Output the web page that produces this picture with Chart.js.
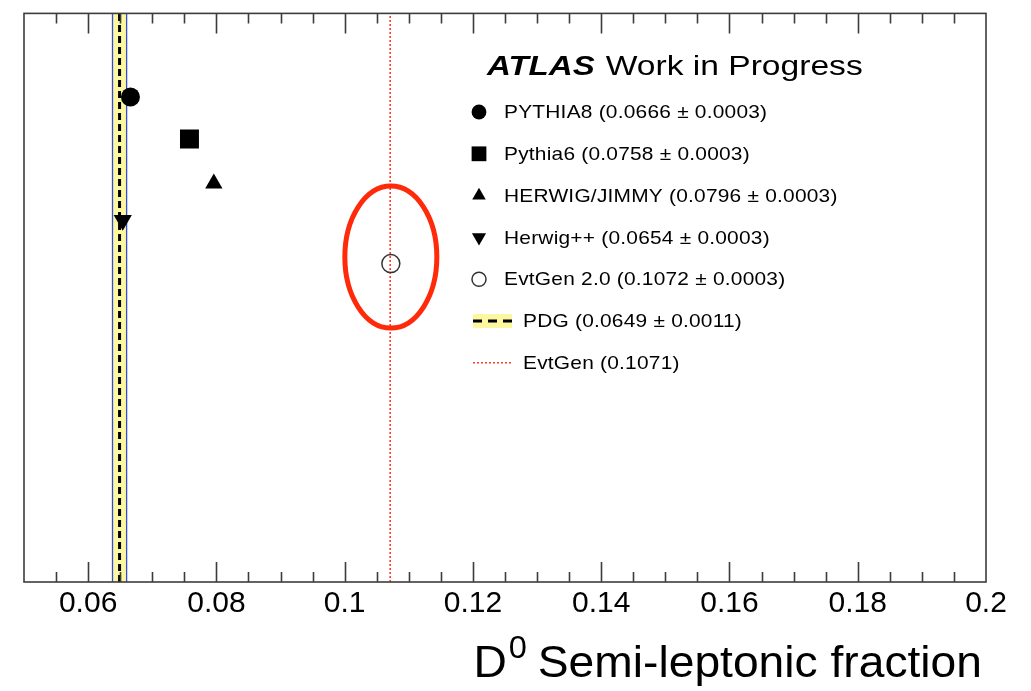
<!DOCTYPE html>
<html>
<head>
<meta charset="utf-8">
<script src="https://cdn.jsdelivr.net/npm/chart.js@4.4.1/dist/chart.umd.min.js"></script>
<style>
  html, body { margin: 0; padding: 0; background: #fff; }
  #wrap { width: 1031px; height: 691px; }
</style>
</head>
<body>
<div id="wrap"><canvas id="fracChart" width="1031" height="691"></canvas></div>
<script>
// D0 semi-leptonic fraction per generator
const generators = ["PYTHIA8", "Pythia6", "HERWIG/JIMMY", "Herwig++", "EvtGen 2.0"];
const fractions  = [0.0666, 0.0758, 0.0796, 0.0654, 0.1072];
const fracErrors = [0.0003, 0.0003, 0.0003, 0.0003, 0.0003];
const rowPos     = [0.853, 0.779, 0.701, 0.636, 0.560];   // vertical slot of each marker (y axis hidden)

// reference lines
const pdgValue = 0.0649;
const pdgError = 0.0011;
const evtGenValue = 0.1071;

const xTicks      = [0.06, 0.08, 0.1, 0.12, 0.14, 0.16, 0.18, 0.2];
const xTickLabels = ["0.06", "0.08", "0.1", "0.12", "0.14", "0.16", "0.18", "0.2"];

const FONT = "'Liberation Sans', Arial, Helvetica, sans-serif";

// marker look per generator
const markers = [
  { shape: "circle",   rot: 0,   r: 9.5,  fill: true },
  { shape: "rect",     rot: 0,   r: 13.4, fill: true },
  { shape: "triangle", rot: 0,   r: 10,   fill: true },
  { shape: "triangle", rot: 180, r: 10.5, fill: true },
  { shape: "circle",   rot: 0,   r: 9,    fill: false }
];

const fmt = v => v.toFixed(4);

// text stretched horizontally, returns drawn width
function wideText(ctx, text, x, y, sx) {
  ctx.save();
  ctx.translate(x, y);
  ctx.scale(sx, 1);
  ctx.fillText(text, 0, 0);
  const w = ctx.measureText(text).width * sx;
  ctx.restore();
  return w;
}

const markerSets = generators.map((g, i) => ({
  label: g,
  data: [{ x: fractions[i], y: rowPos[i] }],
  pointStyle: markers[i].shape,
  pointRotation: markers[i].rot,
  pointRadius: markers[i].r,
  pointBackgroundColor: markers[i].fill ? "#000" : "rgba(0,0,0,0)",
  pointBorderColor: markers[i].fill ? "#000" : "#333",
  pointBorderWidth: markers[i].fill ? 0 : 1.5,
  showLine: false,
  order: 1
}));

const lineSets = [
  {
    label: "PDG",
    data: [{ x: pdgValue, y: 0 }, { x: pdgValue, y: 1 }],
    showLine: true, pointRadius: 0,
    borderColor: "#000", borderWidth: 3, borderDash: [7, 4],
    order: 2
  },
  {
    label: "EvtGen",
    data: [{ x: evtGenValue, y: 0 }, { x: evtGenValue, y: 1 }],
    showLine: true, pointRadius: 0,
    borderColor: "#ff3b2a", borderWidth: 1.6, borderDash: [2, 2],
    order: 2
  }
];

// yellow PDG uncertainty band with thin blue edges
const pdgBand = {
  id: "pdgBand",
  beforeDatasetsDraw(chart) {
    const { ctx, chartArea: a, scales: { x } } = chart;
    const x0 = x.getPixelForValue(pdgValue - pdgError);
    const x1 = x.getPixelForValue(pdgValue + pdgError);
    ctx.save();
    ctx.fillStyle = "#fdf7a0";
    ctx.fillRect(x0, a.top, x1 - x0, a.bottom - a.top);
    ctx.strokeStyle = "#3450d0";
    ctx.lineWidth = 1.3;
    ctx.beginPath();
    ctx.moveTo(x0, a.top); ctx.lineTo(x0, a.bottom);
    ctx.moveTo(x1, a.top); ctx.lineTo(x1, a.bottom);
    ctx.stroke();
    ctx.restore();
  }
};

// red ring around the EvtGen 2.0 point
const highlight = {
  id: "highlight",
  afterDatasetsDraw(chart) {
    const { ctx, scales: { x, y } } = chart;
    const cx = x.getPixelForValue(fractions[4]);
    const cy = y.getPixelForValue(rowPos[4]) - 6.5;
    ctx.save();
    ctx.strokeStyle = "#ff2a0a";
    ctx.lineWidth = 5;
    ctx.beginPath();
    ctx.ellipse(cx, cy, 46, 71, 0, 0, Math.PI * 2);
    ctx.stroke();
    ctx.restore();
  }
};

// frame, inward ticks on bottom and top, axis title
const frame = {
  id: "frame",
  afterDraw(chart) {
    const { ctx, chartArea: a, scales: { x } } = chart;
    ctx.save();
    ctx.strokeStyle = "#3c3c3c";
    ctx.lineWidth = 1.6;
    ctx.strokeRect(a.left, a.top, a.right - a.left, a.bottom - a.top);

    ctx.beginPath();
    for (let k = 11; k <= 39; k++) {
      const v = k * 0.005;
      const major = k % 4 === 0;
      const len = major ? 20 : 10;
      const px = Math.round(x.getPixelForValue(v)) + 0.5;
      ctx.moveTo(px, a.bottom); ctx.lineTo(px, a.bottom - len);
      ctx.moveTo(px, a.top);    ctx.lineTo(px, a.top + len);
    }
    ctx.stroke();

    // D^0 Semi-leptonic fraction, right aligned under the axis
    const big = "44px " + FONT, small = "31px " + FONT, sx = 1.05;
    ctx.fillStyle = "#000";
    ctx.textBaseline = "alphabetic";
    ctx.font = big;
    const wD = ctx.measureText("D").width * sx;
    const rest = " Semi-leptonic fraction";
    const wRest = ctx.measureText(rest).width * sx;
    ctx.font = small;
    const w0 = ctx.measureText("0").width * sx;
    let tx = a.right - 4 - (wD + w0 + wRest);
    const base = 677;
    ctx.font = big;
    wideText(ctx, "D", tx, base, sx);
    tx += wD + 2;
    ctx.font = small;
    wideText(ctx, "0", tx, base - 19, sx);
    tx += w0 - 2;
    ctx.font = big;
    wideText(ctx, rest, tx, base, sx);
    ctx.restore();
  }
};

// ATLAS label and legend
const legendBox = {
  id: "legendBox",
  afterDraw(chart) {
    const { ctx } = chart;
    ctx.save();
    ctx.fillStyle = "#000";
    ctx.textBaseline = "alphabetic";
    ctx.font = "italic bold 28px " + FONT;
    const wA = wideText(ctx, "ATLAS", 487, 75, 1.18);
    ctx.font = "28px " + FONT;
    wideText(ctx, "Work in Progress", 487 + wA + 11, 75, 1.2);

    const mx = 479, tx = 504, y0 = 112, dy = 41.8;
    ctx.font = "19px " + FONT;
    ctx.textBaseline = "middle";
    ctx.letterSpacing = "0.2px";
    generators.forEach((g, i) => {
      const yy = y0 + i * dy;
      const m = markers[i];
      ctx.fillStyle = m.fill ? "#000" : "rgba(0,0,0,0)";
      ctx.strokeStyle = m.fill ? "#000" : "#333";
      ctx.lineWidth = 1.5;
      Chart.helpers.drawPoint(ctx, {
        pointStyle: m.shape, rotation: m.rot, radius: m.r * 0.78,
        borderWidth: m.fill ? 0 : 1.5
      }, mx, yy);
      ctx.fillStyle = "#000";
      wideText(ctx, `${g} (${fmt(fractions[i])} \u00b1 ${fmt(fracErrors[i])})`, tx, yy + 1, 1.1);
    });

    // PDG row
    let yy = y0 + 5 * dy;
    ctx.fillStyle = "#fdf7a0";
    ctx.fillRect(473, yy - 7, 39, 14);
    ctx.strokeStyle = "#000";
    ctx.lineWidth = 3;
    ctx.setLineDash([9, 6]);
    ctx.beginPath(); ctx.moveTo(473, yy); ctx.lineTo(512, yy); ctx.stroke();
    ctx.fillStyle = "#000";
    wideText(ctx, `PDG (${fmt(pdgValue)} \u00b1 ${fmt(pdgError)})`, 523, yy + 1, 1.1);

    // EvtGen row
    yy = y0 + 6 * dy;
    ctx.strokeStyle = "#ff3b2a";
    ctx.lineWidth = 1.6;
    ctx.setLineDash([2, 2]);
    ctx.beginPath(); ctx.moveTo(473, yy); ctx.lineTo(512, yy); ctx.stroke();
    ctx.setLineDash([]);
    wideText(ctx, `EvtGen (${evtGenValue})`, 523, yy + 1, 1.1);
    ctx.restore();
  }
};

new Chart(document.getElementById("fracChart").getContext("2d"), {
  type: "scatter",
  data: { datasets: [...markerSets, ...lineSets] },
  options: {
    responsive: false,
    animation: false,
    events: [],
    layout: { padding: { left: 24, top: 6.6, right: 45, bottom: 0 } },
    plugins: { legend: { display: false }, tooltip: { enabled: false } },
    scales: {
      x: {
        type: "linear",
        min: 0.05, max: 0.2,
        afterBuildTicks: s => { s.ticks = xTicks.map(v => ({ value: v })); },
        afterFit: s => { s.height = 109; },
        grid: { display: false, drawTicks: false },
        border: { display: false },
        ticks: {
          padding: 4,
          color: "#000",
          font: { family: FONT, size: 30 },
          callback: (v, i) => xTickLabels[i]
        }
      },
      y: { display: false, min: 0, max: 1 }
    }
  },
  plugins: [pdgBand, highlight, frame, legendBox]
});
</script>
</body>
</html>
